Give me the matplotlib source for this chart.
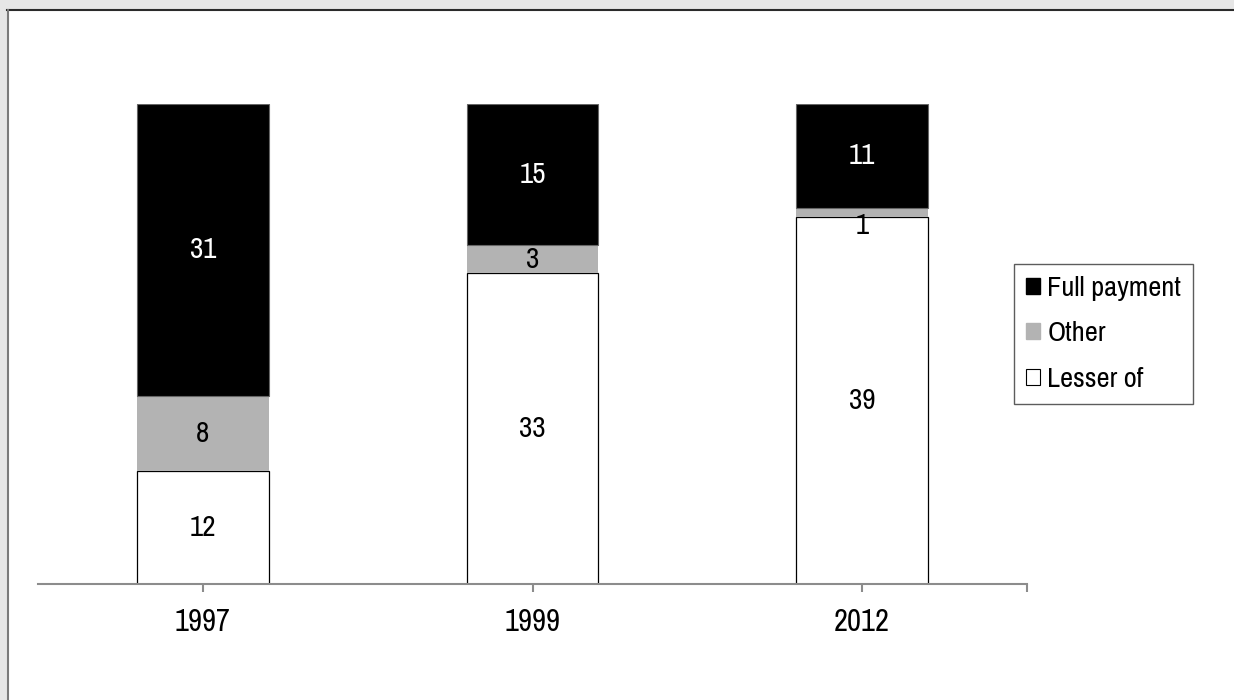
import matplotlib
matplotlib.use("Agg")
import matplotlib.pyplot as plt
from matplotlib.patches import Rectangle, Patch

plt.rcParams['font.family'] = ['Archivo Narrow', 'DejaVu Sans']

# Data: share by payment type per year
years = ['1997', '1999', '2012']
lesser_of = [12, 33, 39]
other = [8, 3, 1]
full_payment = [31, 15, 11]

GRAY = '#b3b3b3'
AXIS_GRAY = '#8c8c8c'

W, H = 1234, 700
fig = plt.figure(figsize=(W / 100, H / 100), dpi=100)

# Page-like frame: grey band on top and left edges
fig.patches.append(Rectangle((0, 1 - 9 / H), 1, 9 / H, transform=fig.transFigure,
                             facecolor='#e6e6e6', edgecolor='none', zorder=0))
fig.patches.append(Rectangle((0, 0), 7 / W, 1, transform=fig.transFigure,
                             facecolor='#e6e6e6', edgecolor='none', zorder=0))
fig.add_artist(plt.Line2D([7 / W, 1], [1 - 9.5 / H, 1 - 9.5 / H], transform=fig.transFigure,
                          color='#2a2a2a', lw=1.5))
fig.add_artist(plt.Line2D([7.5 / W, 7.5 / W], [0, 1 - 9.5 / H], transform=fig.transFigure,
                          color='#7a7a7a', lw=1.5))

ax = fig.add_axes([38 / W, (H - 584) / H, 989 / W, 480 / H])
x = list(range(len(years)))
width = 0.40

bottoms_other = lesser_of
bottoms_full = [a + b for a, b in zip(lesser_of, other)]

ax.bar(x, lesser_of, width, color='white', edgecolor='black', linewidth=0.9, zorder=2)
ax.bar(x, other, width, bottom=bottoms_other, color=GRAY, edgecolor='none', zorder=2)
ax.bar(x, full_payment, width, bottom=bottoms_full, color='black', edgecolor='#666666',
       linewidth=0.8, zorder=2)

LABEL_SIZE = 21
for i in x:
    ax.text(i, lesser_of[i] / 2, str(lesser_of[i]), ha='center', va='center',
            fontsize=LABEL_SIZE, color='black', zorder=3)
    # tiny segments: label hangs below the segment's middle
    va = 'top' if other[i] < 2 else 'center'
    ax.text(i, bottoms_other[i] + other[i] / 2, str(other[i]), ha='center', va=va,
            fontsize=LABEL_SIZE, color='black', zorder=3)
    ax.text(i, bottoms_full[i] + full_payment[i] / 2, str(full_payment[i]), ha='center',
            va='center', fontsize=LABEL_SIZE, color='white', zorder=3)

ax.set_xlim(-0.5, 2.5)
ax.set_ylim(0, 51)
for s in ['top', 'right', 'left']:
    ax.spines[s].set_visible(False)
ax.spines['bottom'].set_color(AXIS_GRAY)
ax.spines['bottom'].set_linewidth(1.5)
ax.set_yticks([])
ax.set_xticks(x)
ax.set_xticklabels(years, fontsize=22)
ax.set_xticks([2.5], minor=True)
ax.tick_params(axis='x', which='both', direction='out', length=6, width=1.5,
               color=AXIS_GRAY, pad=11)

handles = [Patch(facecolor='black', edgecolor='black', label='Full payment'),
           Patch(facecolor=GRAY, edgecolor=GRAY, label='Other'),
           Patch(facecolor='white', edgecolor='black', linewidth=0.8, label='Lesser of')]
leg = fig.legend(handles=handles, loc='upper left',
                 bbox_to_anchor=(1014 / W, 1 - 264 / H), borderaxespad=0,
                 fontsize=20.5, frameon=True, fancybox=False, edgecolor='#333333',
                 handlelength=0.5, handleheight=0.5, handletextpad=0.25,
                 labelspacing=0.72, borderpad=0.42)
leg.get_frame().set_linewidth(1.0)

fig.savefig('out.png', dpi=100, facecolor='white')
